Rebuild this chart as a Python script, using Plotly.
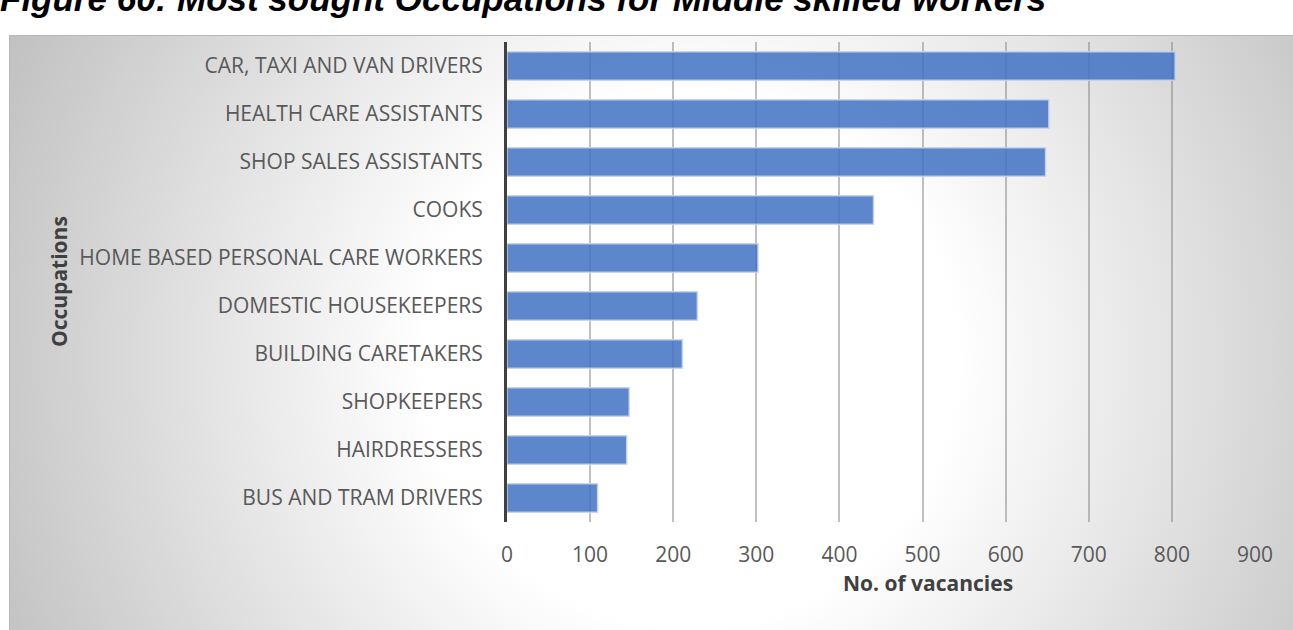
import base64
import plotly.graph_objects as go

# ---- data ----
occupations = [
    "CAR, TAXI AND VAN DRIVERS",
    "HEALTH CARE ASSISTANTS",
    "SHOP SALES ASSISTANTS",
    "COOKS",
    "HOME BASED PERSONAL CARE WORKERS",
    "DOMESTIC HOUSEKEEPERS",
    "BUILDING CARETAKERS",
    "SHOPKEEPERS",
    "HAIRDRESSERS",
    "BUS AND TRAM DRIVERS",
]
vacancies = [804, 652, 648, 441, 302, 229, 211, 147, 144, 109]
x_ticks = [0, 100, 200, 300, 400, 500, 600, 700, 800, 900]
title_text = "Figure 60: Most sought Occupations for Middle skilled workers"
x_title = "No. of vacancies"
y_title = "Occupations"

# ---- layout geometry (pixels) ----
FW, FH = 1293, 630
PL, PR, PT, PB = 507, 1255, 42, 522
PW, PH = PR - PL, PB - PT


def px_x(px):
    return (px - PL) / PW


def px_y(py):
    return (PB - py) / PH


# radial gradient background of chart area
FX, FY = 9, 35
GW, GH = 1344, 640
cx, cy, r = 690 - FX, 360 - FY, 760
svg = (
    f'<svg xmlns="http://www.w3.org/2000/svg" width="{GW}" height="{GH}" '
    f'viewBox="0 0 {GW} {GH}" preserveAspectRatio="none">'
    f'<defs><radialGradient id="g" gradientUnits="userSpaceOnUse" cx="{cx}" cy="{cy}" r="{r}">'
    f'<stop offset="0" stop-color="#ffffff"/><stop offset="0.35" stop-color="#ffffff"/>'
    f'<stop offset="1" stop-color="#c0c0c0"/></radialGradient></defs>'
    f'<rect width="{GW}" height="{GH}" fill="url(#g)"/></svg>'
)
svg_uri = "data:image/svg+xml;base64," + base64.b64encode(svg.encode()).decode()

tick_font = dict(family="Open Sans", size=21, color="#595959")
title_font = dict(family="Open Sans", size=21, color="#404040")

fig = go.Figure(
    go.Bar(
        x=vacancies,
        y=occupations,
        orientation="h",
        width=0.59,
        marker=dict(
            color="rgba(68,114,196,0.86)",
            line=dict(color="rgba(195,212,240,0.9)", width=1.5),
        ),
        hoverinfo="x+y",
    )
)

fig.update_layout(
    width=FW,
    height=FH,
    autosize=False,
    margin=dict(l=PL, r=FW - PR, t=PT, b=FH - PB, pad=0),
    paper_bgcolor="white",
    plot_bgcolor="rgba(0,0,0,0)",
    showlegend=False,
    images=[
        dict(
            source=svg_uri,
            xref="paper",
            yref="paper",
            x=px_x(FX),
            y=px_y(FY),
            sizex=GW / PW,
            sizey=GH / PH,
            xanchor="left",
            yanchor="top",
            sizing="stretch",
            layer="below",
        )
    ],
    shapes=[
        dict(
            type="rect",
            xref="paper",
            yref="paper",
            x0=px_x(FX + 0.5),
            x1=px_x(FW + 20),
            y0=px_y(FY + 0.5),
            y1=px_y(FH + 20),
            line=dict(color="#b8b8b8", width=1),
            fillcolor="rgba(0,0,0,0)",
            layer="below",
        )
    ],
    xaxis=dict(
        range=[0, 900],
        tickvals=x_ticks,
        ticktext=[str(v) for v in x_ticks],
        showgrid=True,
        gridcolor="rgba(130,130,130,0.5)",
        gridwidth=1.5,
        zeroline=False,
        showline=False,
        ticks="",
        tickfont=tick_font,
        ticklabelstandoff=18,
        fixedrange=True,
    ),
    yaxis=dict(
        autorange="reversed",
        showgrid=False,
        zeroline=False,
        showline=True,
        linecolor="#404040",
        linewidth=3,
        ticks="",
        tickfont=tick_font,
        ticklabelstandoff=17,
        fixedrange=True,
    ),
    annotations=[
        dict(
            text=f"<b><i>{title_text}</i></b>",
            xref="paper",
            yref="paper",
            x=px_x(-2),
            y=px_y(-1),
            xanchor="left",
            yanchor="middle",
            showarrow=False,
            font=dict(family="Liberation Sans", size=35, color="black"),
        ),
        dict(
            text=f"<b>{x_title}</b>",
            xref="paper",
            yref="paper",
            x=px_x(928),
            y=px_y(583),
            xanchor="center",
            yanchor="middle",
            showarrow=False,
            font=title_font,
        ),
        dict(
            text=f"<b>{y_title}</b>",
            xref="paper",
            yref="paper",
            x=px_x(59),
            y=px_y(282),
            xanchor="center",
            yanchor="middle",
            textangle=-90,
            showarrow=False,
            font=title_font,
        ),
    ],
)

fig.write_html(
    "out.html",
    config={"displayModeBar": False},
    post_script="document.body.style.margin='0';",
)
